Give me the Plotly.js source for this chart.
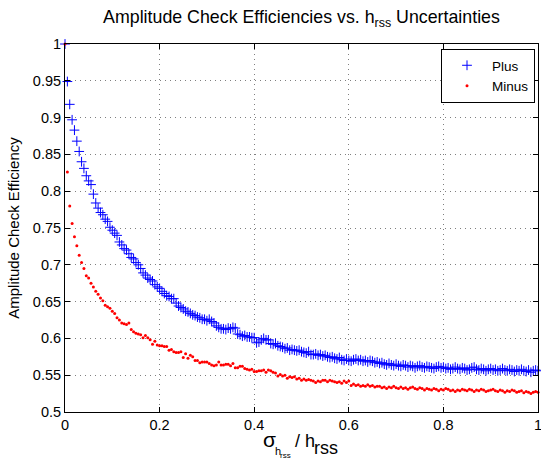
<!DOCTYPE html>
<html>
<head>
<meta charset="utf-8">
<script src="https://cdn.plot.ly/plotly-3.0.1.min.js"></script>
<style>html,body{margin:0;padding:0;background:#fff;}#chart{width:541px;height:459px;}</style>
</head>
<body>
<div id="chart"></div>
<script>
// sample positions: sigma/h_rss from 0 to 1 in steps of 0.005
var xStart = 0;
var xStep = 0.005;

var plusEff = [
1.0, 0.949, 0.918, 0.897, 0.883, 0.868, 0.854, 0.840, 0.831, 0.821,
0.814, 0.809, 0.796, 0.784, 0.777, 0.771, 0.768, 0.762, 0.759, 0.751,
0.747, 0.743, 0.740, 0.731, 0.727, 0.722, 0.720, 0.715, 0.710, 0.708,
0.703, 0.700, 0.695, 0.689, 0.686, 0.682, 0.680, 0.678, 0.673, 0.670,
0.668, 0.664, 0.661, 0.658, 0.657, 0.654, 0.654, 0.648, 0.644, 0.642,
0.640, 0.637, 0.636, 0.634, 0.632, 0.631, 0.629, 0.628, 0.626, 0.626,
0.624, 0.626, 0.623, 0.621, 0.617, 0.615, 0.613, 0.613, 0.612, 0.614,
0.613, 0.615, 0.614, 0.606, 0.605, 0.603, 0.604, 0.602, 0.602, 0.601,
0.601, 0.594, 0.595, 0.598, 0.600, 0.598, 0.598, 0.593, 0.592, 0.593,
0.590, 0.589, 0.588, 0.586, 0.587, 0.584, 0.585, 0.584, 0.583, 0.584,
0.582, 0.581, 0.580, 0.582, 0.578, 0.578, 0.579, 0.577, 0.578, 0.576,
0.577, 0.575, 0.574, 0.575, 0.573, 0.572, 0.574, 0.571, 0.570, 0.572,
0.570, 0.569, 0.571, 0.572, 0.570, 0.571, 0.569, 0.570, 0.568, 0.570,
0.569, 0.567, 0.568, 0.566, 0.567, 0.565, 0.564, 0.566, 0.564, 0.563,
0.565, 0.563, 0.562, 0.564, 0.563, 0.561, 0.563, 0.562, 0.560, 0.562,
0.563, 0.561, 0.560, 0.562, 0.561, 0.560, 0.559, 0.561, 0.562, 0.560,
0.561, 0.559, 0.560, 0.558, 0.559, 0.561, 0.559, 0.558, 0.560, 0.559,
0.557, 0.558, 0.560, 0.561, 0.558, 0.557, 0.559, 0.558, 0.556, 0.558,
0.559, 0.557, 0.558, 0.556, 0.557, 0.559, 0.557, 0.556, 0.558, 0.557,
0.555, 0.557, 0.556, 0.558, 0.556, 0.555, 0.557, 0.554, 0.556, 0.557, 0.556
];

var minusEff = [
1.0, 0.826, 0.780, 0.756, 0.738, 0.726, 0.713, 0.703, 0.695, 0.685,
0.682, 0.675, 0.670, 0.664, 0.660, 0.655, 0.651, 0.645, 0.643, 0.641,
0.637, 0.634, 0.628, 0.625, 0.621, 0.620, 0.619, 0.621, 0.612, 0.609,
0.607, 0.606, 0.605, 0.601, 0.604, 0.601, 0.598, 0.592, 0.596, 0.591,
0.590, 0.590, 0.589, 0.589, 0.584, 0.585, 0.582, 0.581, 0.581, 0.582,
0.574, 0.579, 0.573, 0.577, 0.575, 0.570, 0.570, 0.567, 0.568, 0.568,
0.568, 0.566, 0.564, 0.563, 0.564, 0.568, 0.564, 0.564, 0.565, 0.565,
0.563, 0.566, 0.560, 0.560, 0.562, 0.562, 0.559, 0.558, 0.557, 0.558,
0.555, 0.555, 0.556, 0.556, 0.557, 0.554, 0.557, 0.556, 0.554, 0.553,
0.549, 0.551, 0.549, 0.550, 0.546, 0.548, 0.547, 0.548, 0.545, 0.546,
0.543, 0.545, 0.543, 0.544, 0.543, 0.542, 0.540, 0.542, 0.541, 0.543,
0.543, 0.541, 0.543, 0.542, 0.541, 0.540, 0.541, 0.539, 0.542, 0.540,
0.542, 0.536, 0.538, 0.536, 0.537, 0.535, 0.536, 0.535, 0.537, 0.535,
0.536, 0.534, 0.535, 0.535, 0.533, 0.534, 0.532, 0.534, 0.533, 0.535,
0.533, 0.532, 0.534, 0.532, 0.533, 0.531, 0.533, 0.534, 0.532, 0.531,
0.533, 0.532, 0.530, 0.532, 0.531, 0.530, 0.532, 0.531, 0.529, 0.531,
0.530, 0.532, 0.531, 0.529, 0.530, 0.528, 0.530, 0.529, 0.531, 0.530,
0.529, 0.531, 0.530, 0.528, 0.530, 0.529, 0.531, 0.530, 0.528, 0.529,
0.530, 0.531, 0.529, 0.528, 0.530, 0.529, 0.527, 0.529, 0.528, 0.530,
0.529, 0.527, 0.528, 0.529, 0.526, 0.528, 0.527, 0.525, 0.527, 0.528, 0.527
];

var xTickVals = [0, 0.2, 0.4, 0.6, 0.8, 1];
var xTickText = ["0", "0.2", "0.4", "0.6", "0.8", "1"];
var yTickVals = [0.5, 0.55, 0.6, 0.65, 0.7, 0.75, 0.8, 0.85, 0.9, 0.95, 1];
var yTickText = ["0.5", "0.55", "0.6", "0.65", "0.7", "0.75", "0.8", "0.85", "0.9", "0.95", "1"];

var FONT = "Liberation Sans, Arial, Helvetica, sans-serif";

var traces = [
  {
    type: "scatter", mode: "markers", name: "Plus",
    x0: xStart, dx: xStep, y: plusEff,
    cliponaxis: false,
    marker: {symbol: "cross-thin-open", size: 7, color: "#0000ff", line: {color: "#0000ff", width: 1}}
  },
  {
    type: "scatter", mode: "markers", name: "Minus",
    x0: xStart, dx: xStep, y: minusEff,
    cliponaxis: false,
    marker: {symbol: "circle", size: 3, color: "#ff0000", line: {width: 0}}
  }
];

var axisCommon = {
  showline: true, linecolor: "#000", linewidth: 1, mirror: "ticks",
  ticks: "inside", ticklen: 5, tickwidth: 1, tickcolor: "#000",
  showgrid: true, gridcolor: "rgba(0,0,0,0.5)", gridwidth: 1, griddash: "1px,4px",
  zeroline: false, ticklabeloverflow: "allow",
  tickfont: {family: FONT, size: 14.5, color: "#000"}
};

var W = 473, H = 368, L = 65, T = 44;
function px(p) { return (p - L) / W; }
function py(p) { return (T + H - p) / H; }

var layout = {
  width: 541, height: 459,
  margin: {l: 65, r: 3, t: 44, b: 47},
  paper_bgcolor: "#fff", plot_bgcolor: "#fff",
  font: {family: FONT, color: "#000"},
  showlegend: true,
  title: {
    text: "Amplitude Check Efficiencies vs. h<sub>rss</sub> Uncertainties",
    font: {family: FONT, size: 17.8, color: "#000"},
    x: 0.5, xref: "paper", xanchor: "center",
    y: 0.963, yref: "container", yanchor: "middle"
  },
  xaxis: Object.assign({}, axisCommon, {
    range: [0, 1], tickvals: xTickVals, ticktext: xTickText
  }),
  yaxis: Object.assign({}, axisCommon, {
    range: [0.5, 1], tickvals: yTickVals, ticktext: yTickText,
    title: {text: "Amplitude Check Efficiency", font: {family: FONT, size: 15, color: "#000"}, standoff: 9}
  }),
  legend: {
    x: px(535), xanchor: "right", y: py(49), yanchor: "top",
    bgcolor: "#fff", bordercolor: "#000", borderwidth: 1,
    font: {family: FONT, size: 13.5, color: "#000"},
    itemwidth: 40, tracegroupgap: 0
  },
  annotations: [
    {text: "σ", xref: "paper", yref: "paper", x: px(261), y: py(439), xanchor: "left", yanchor: "middle", showarrow: false, font: {family: FONT, size: 21, color: "#000"}},
    {text: "h", xref: "paper", yref: "paper", x: px(273), y: py(450.5), xanchor: "left", yanchor: "middle", showarrow: false, font: {family: FONT, size: 11, color: "#000"}},
    {text: "rss", xref: "paper", yref: "paper", x: px(278), y: py(455.5), xanchor: "left", yanchor: "middle", showarrow: false, font: {family: FONT, size: 8, color: "#000"}},
    {text: "/ h", xref: "paper", yref: "paper", x: px(293), y: py(441), xanchor: "left", yanchor: "middle", showarrow: false, font: {family: FONT, size: 18, color: "#000"}},
    {text: "rss", xref: "paper", yref: "paper", x: px(312), y: py(447.5), xanchor: "left", yanchor: "middle", showarrow: false, font: {family: FONT, size: 18, color: "#000"}}
  ]
};

Plotly.newPlot("chart", traces, layout, {staticPlot: true, displayModeBar: false});
</script>
</body>
</html>
